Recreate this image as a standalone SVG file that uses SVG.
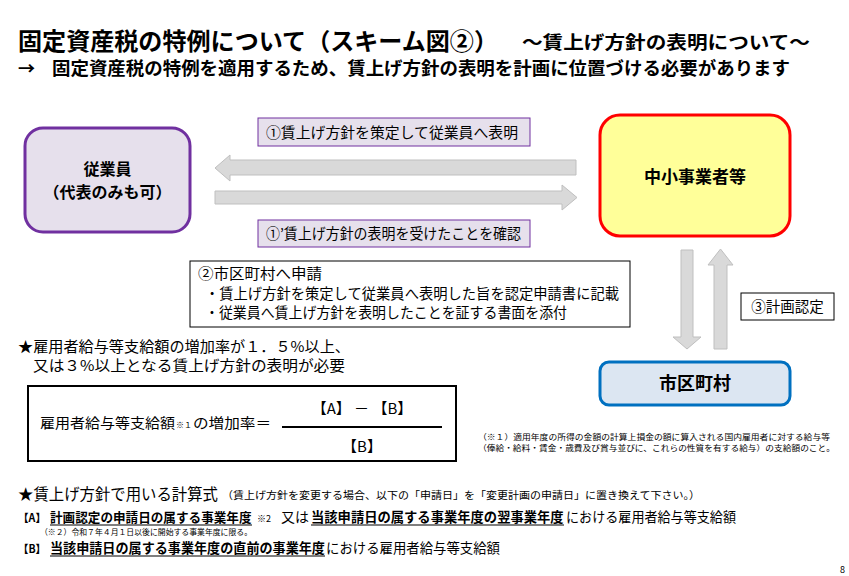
<svg xmlns="http://www.w3.org/2000/svg" width="849" height="576" viewBox="0 0 849 576">
<style>
text{font-family:"Noto Sans CJK JP","Noto Sans",sans-serif;fill:#000}
.b{font-weight:bold}
.arrow{fill:#D9D9D9;stroke:#BFBFBF;stroke-width:1}
.lbl{fill:#E6E0EC;stroke:#7030A0;stroke-width:1}
.box{fill:#fff;stroke:#000;stroke-width:1}
.ul{stroke:#000;stroke-width:1.2}
</style>
<rect width="849" height="576" fill="#fff"/>
<g id="title">
<text x="18" y="50" class="b" font-size="24" textLength="480" lengthAdjust="spacingAndGlyphs">固定資産税の特例について（スキーム図②）</text>
<text x="522" y="49" class="b" font-size="18" textLength="288" lengthAdjust="spacingAndGlyphs">～賃上げ方針の表明について～</text>
<text x="18" y="75" class="b" font-size="17">→</text>
<text x="52" y="75" class="b" font-size="18" textLength="738" lengthAdjust="spacingAndGlyphs">固定資産税の特例を適用するため、賃上げ方針の表明を計画に位置づける必要があります</text>
</g>
<g id="connectors">
<polygon class="arrow" points="215,168 230,155 230,160 576,160 576,175 230,175 230,181"/>
<polygon class="arrow" points="215,191 562,191 562,185 577,197.5 562,210 562,204 215,204"/>
<polygon class="arrow" points="681,250 693,250 693,337 701,337 687,349 673,337 681,337"/>
<polygon class="arrow" points="714,349 727,349 727,265 733,265 720.5,249 708,265 714,265"/>
</g>
<g id="n-employee">
<rect x="25" y="128" width="165" height="104" rx="18" fill="#E6E0EC" stroke="#7030A0" stroke-width="3"/>
<text x="107.5" y="175" class="b" font-size="16" text-anchor="middle">従業員</text>
<text x="107.5" y="198" class="b" font-size="16" text-anchor="middle">（代表のみも可）</text>
</g>
<g id="n-company">
<rect x="600" y="115" width="190" height="121" rx="20" fill="#FFFF99" stroke="#FF0000" stroke-width="3"/>
<text x="695" y="183" class="b" font-size="17" text-anchor="middle">中小事業者等</text>
</g>
<g id="n-municipality">
<rect x="600" y="362" width="190" height="43" rx="9" fill="#DCE6F2" stroke="#0070C0" stroke-width="3"/>
<text x="695" y="390" class="b" font-size="18" text-anchor="middle">市区町村</text>
</g>
<g id="label-1">
<rect class="lbl" x="258" y="118" width="272" height="28"/>
<text x="266" y="138" font-size="14.5" textLength="252" lengthAdjust="spacingAndGlyphs">①賃上げ方針を策定して従業員へ表明</text>
</g>
<g id="label-1b">
<rect class="lbl" x="258" y="220" width="272" height="27"/>
<text x="266" y="239" font-size="14.5" textLength="255" lengthAdjust="spacingAndGlyphs">①’賃上げ方針の表明を受けたことを確認</text>
</g>
<g id="label-2">
<rect class="box" x="190" y="261" width="440" height="66"/>
<text x="198" y="279" font-size="14.5" textLength="124" lengthAdjust="spacingAndGlyphs">②市区町村へ申請</text>
<text x="205" y="299" font-size="14.5" textLength="414" lengthAdjust="spacingAndGlyphs">・賃上げ方針を策定して従業員へ表明した旨を認定申請書に記載</text>
<text x="205" y="318" font-size="14.5" textLength="362" lengthAdjust="spacingAndGlyphs">・従業員へ賃上げ方針を表明したことを証する書面を添付</text>
</g>
<g id="label-3">
<rect class="box" x="741" y="293" width="93" height="27"/>
<text x="787.5" y="312" font-size="14.5" text-anchor="middle">③計画認定</text>
</g>
<g id="note-star">
<text x="18" y="352" font-size="15" textLength="332" lengthAdjust="spacingAndGlyphs">★雇用者給与等支給額の増加率が１．５%以上、</text>
<text x="33" y="371" font-size="15" textLength="312" lengthAdjust="spacingAndGlyphs">又は３%以上となる賃上げ方針の表明が必要</text>
</g>
<g id="formula">
<rect x="28" y="386" width="428" height="75" fill="#fff" stroke="#000" stroke-width="2"/>
<text x="40" y="428" font-size="14" textLength="135" lengthAdjust="spacingAndGlyphs">雇用者給与等支給額</text>
<text x="176" y="428" font-size="8">※１</text>
<text x="193" y="428" font-size="14" textLength="78" lengthAdjust="spacingAndGlyphs">の増加率＝</text>
<line x1="282" y1="427" x2="442" y2="427" stroke="#000" stroke-width="2"/>
<text x="362" y="414" font-size="15" text-anchor="middle">【A】 － 【B】</text>
<text x="362" y="452" font-size="15" text-anchor="middle">【B】</text>
</g>
<g id="footnote-1">
<text x="478" y="440" font-size="8" textLength="352" lengthAdjust="spacingAndGlyphs">（※１）適用年度の所得の金額の計算上損金の額に算入される国内雇用者に対する給与等</text>
<text x="478" y="451" font-size="8" textLength="357" lengthAdjust="spacingAndGlyphs">（俸給・給料・賃金・歳費及び賞与並びに、これらの性質を有する給与）の支給額のこと。</text>
</g>
<g id="calc">
<text x="18" y="500" font-size="15.5" textLength="200" lengthAdjust="spacingAndGlyphs">★賃上げ方針で用いる計算式</text>
<text x="222" y="499" font-size="10.5" textLength="478" lengthAdjust="spacingAndGlyphs">（賃上げ方針を変更する場合、以下の「申請日」を「変更計画の申請日」に置き換えて下さい。）</text>
<text x="18" y="522" class="b" font-size="11" textLength="28" lengthAdjust="spacingAndGlyphs">【A】</text>
<text x="50" y="522" class="b" font-size="12.6">計画認定の申請日の属する事業年度</text>
<text x="257" y="522" font-size="9">※2</text>
<text x="281" y="522" font-size="14">又は</text>
<text x="311" y="522" class="b" font-size="13.3">当該申請日の属する事業年度の翌事業年度</text>
<text x="566" y="522" font-size="14" textLength="170" lengthAdjust="spacingAndGlyphs">における雇用者給与等支給額</text>
<line class="ul" x1="50" y1="525" x2="252" y2="525"/>
<line class="ul" x1="311" y1="525" x2="564" y2="525"/>
<text x="40" y="535" font-size="8" textLength="212" lengthAdjust="spacingAndGlyphs">（※２）令和７年４月１日以後に開始する事業年度に限る。</text>
<text x="18" y="553" class="b" font-size="11" textLength="28" lengthAdjust="spacingAndGlyphs">【B】</text>
<text x="50" y="553" class="b" font-size="13.1">当該申請日の属する事業年度の直前の事業年度</text>
<text x="326" y="553" font-size="14" textLength="174" lengthAdjust="spacingAndGlyphs">における雇用者給与等支給額</text>
<line class="ul" x1="50" y1="556" x2="325" y2="556"/>
</g>
<text x="840" y="573" font-size="9">8</text>
</svg>
